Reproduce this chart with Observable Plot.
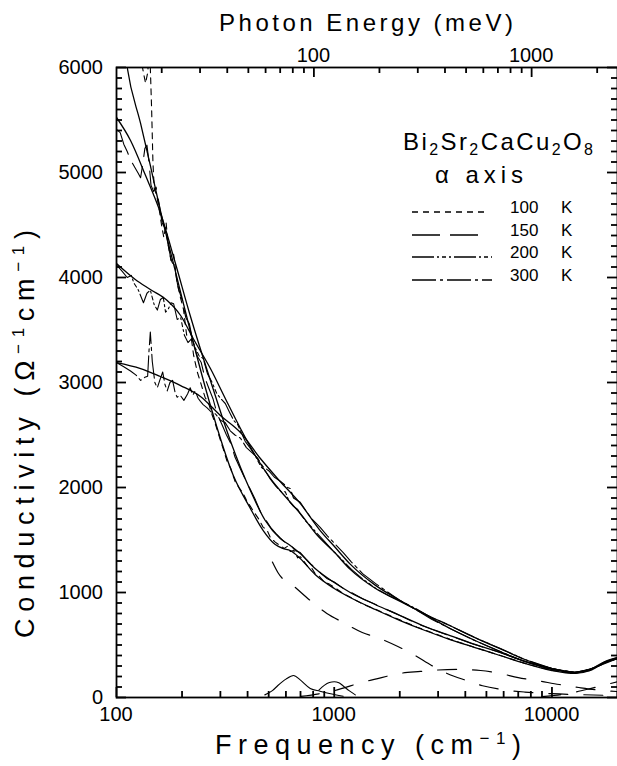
<!DOCTYPE html>
<html><head><meta charset="utf-8">
<script src="https://cdn.jsdelivr.net/npm/d3@7"></script>
<script src="https://cdn.jsdelivr.net/npm/@observablehq/plot@0.6"></script>
<style>body{margin:0;background:#fff} svg{display:block}</style>
</head><body><div id="chart"></div>
<script>
const FONT = '"Liberation Sans", Arial, Helvetica, sans-serif';

// ---------------- data (frequency in cm^-1, conductivity in Ω^-1 cm^-1) ----------------
const temps = ["100 K", "150 K", "200 K", "300 K"];

// Drude-Lorentz fits (solid)
const fit100f = [100,112,129,143,159,186,218,270,344,412,472,536,580,628,698,817,1000,1184,1542,2009,2614,3404,4432,5770,7516,10000,12760,15000,17500,20000];
const fit100s = [6900,6000,5467,5067,4638,4067,3495,2781,2114,1800,1590,1457,1420,1400,1324,1171,1038,952,838,733,638,552,476,400,324,257,229,257,333,375];
const fit150f = [100,116,136,159,186,218,270,333,412,482,565,628,698,817,1000,1184,1542,2009,2614,3404,4432,5770,7516,10000,12760,15000,17500,20000];
const fit150s = [5524,5305,4971,4619,4143,3638,3019,2448,1971,1686,1514,1448,1371,1229,1095,1000,886,781,676,590,505,429,343,276,238,267,343,381];
const fit200f = [100,122,143,171,197,225,270,316,371,434,509,596,698,836,1000,1184,1542,2009,2614,3404,4432,5770,7516,10000,12760,15000,17500,20000];
const fit200s = [4133,3981,3886,3781,3638,3419,3133,2848,2562,2305,2086,1914,1752,1545,1385,1220,1040,915,795,683,570,466,362,276,238,267,333,372];
const fit300f = [100,129,159,197,243,300,371,458,565,698,862,1000,1184,1542,2009,2614,3404,4432,5770,7516,10000,12760,16600,20000];
const fit300s = [3190,3133,3057,2971,2867,2686,2524,2276,2057,1848,1590,1440,1270,1070,924,790,657,543,438,343,267,238,305,372];

// measured spectra (broken line styles)
const d100f = [100,108,115,122,129,133,136,139,141,143,145,147,149,153,157,161,165,169,173,178,183,189,196,203,210,218,226,235,245,255,265,275,285,298,310,322,335,350,365,380,395,412,430,450,472,490,510,536,560,590,610,628,650,680,700,730,760,790,817,850,900,950,1000,1100,1200,1350,1550,1800,2000,2400,2800,3400,4400,5800,7500,10000,12700,15000,17500,20000];
const d100s = [6600,6450,6300,6180,6100,5950,5850,5950,6100,6000,5600,5100,4850,4780,4650,4500,4380,4520,4300,4160,4220,3980,3820,3700,3450,3500,3260,3100,2980,2860,2800,2690,2600,2470,2360,2250,2180,2060,2000,1950,1880,1820,1760,1700,1620,1600,1520,1480,1450,1420,1440,1390,1400,1330,1340,1290,1240,1230,1180,1160,1100,1080,1050,990,950,890,840,780,740,670,620,555,478,400,325,258,230,258,333,374];
const d150f = [100,104,108,112,116,122,126,129,132,135,138,141,144,148,152,157,162,167,172,178,185,192,200,208,216,225,235,245,255,265,278,290,305,320,335,350,370,390,412,435,460,482,510,540,565,600,628,660,698,740,780,817,870,930,1000,1100,1200,1350,1550,1800,2000,2400,2800,3400,4400,5800,7500,10000,12700,15000,17500,20000];
const d150s = [5410,5380,5270,5200,5120,5040,4990,4950,5080,5230,5260,5100,4880,4820,4860,4700,4520,4470,4330,4170,4090,3900,3790,3620,3560,3380,3250,3190,3040,2950,2840,2700,2600,2500,2420,2290,2180,2080,1980,1880,1760,1700,1620,1560,1520,1470,1460,1400,1380,1320,1270,1240,1180,1130,1100,1040,1000,940,885,825,782,705,650,588,505,428,343,275,238,267,340,381];
const d200f = [100,106,112,117,120,126,133,138,143,149,154,159,164,168,173,178,183,190,197,205,213,222,230,240,250,262,275,288,300,316,330,345,360,371,390,410,434,460,485,509,540,570,596,620,650,680,698,740,790,836,900,1000,1100,1200,1350,1550,1800,2000,2400,2800,3400,4400,5800,7500,10000,12700,15000,17500,20000];
const d200s = [4120,4060,4000,4020,3950,3880,3760,3850,3880,3740,3690,3790,3810,3670,3700,3760,3750,3600,3620,3450,3380,3420,3330,3250,3230,3080,3000,2900,2850,2800,2720,2640,2600,2540,2440,2380,2300,2200,2150,2080,2010,1960,1960,1870,1820,1790,1750,1680,1620,1560,1490,1385,1300,1220,1130,1040,965,925,840,760,685,572,466,362,276,238,266,332,370];
const d300f = [100,108,116,123,129,135,139,141,143,146,150,154,158,163,167,171,176,181,186,190,196,204,212,218,224,230,237,243,250,260,272,285,300,315,333,350,371,395,420,445,470,500,530,565,590,610,628,650,698,740,790,862,930,1000,1100,1200,1350,1550,1800,2000,2400,2800,3400,4400,5800,7500,10000,12700,15000,16600,18000,20000];
const d300s = [3190,3150,3110,3070,3020,3050,3060,3300,3480,3200,3000,2950,3020,3100,2980,2920,3000,3020,2900,2860,2880,2830,2890,2950,2880,2920,2850,2820,2790,2760,2720,2700,2640,2620,2540,2500,2470,2380,2330,2280,2200,2160,2100,2060,2030,2000,1990,1900,1860,1780,1700,1620,1540,1470,1380,1290,1180,1085,990,925,830,745,658,545,437,343,267,238,270,305,340,372];

// fit components (100 K)
const drudeF = [520,551,663,776,925,1100,1345,1620,1960,2350,2800,3300,4050,4800,5800,7500,10000,14000,20000];
const drudeS = [1290,1190,1048,924,800,714,619,562,486,400,305,229,162,112,78,52,36,26,18];
const mirF = [700,850,1000,1100,1340,1650,2000,2490,3000,3700,4700,5770,7000,8600,10800,13300,17000,20000];
const mirS = [10,35,65,90,143,190,229,248,262,267,257,229,190,160,124,95,67,57];
const interF = [9000,12000,15000,17500,20000];
const interS = [8,40,85,120,150];
const osc1F = [480,520,551,600,650,700,776,860,950,1100];
const osc1S = [25,65,114,175,210,165,86,60,38,12];
const osc2F = [850,900,950,1000,1050,1100,1170,1250];
const osc2S = [70,115,142,150,140,110,65,25];

// axes
const xMajor = [100, 1000, 10000];
const xMinor = [200,300,400,500,600,700,800,900,2000,3000,4000,5000,6000,7000,8000,9000,20000];
const meVMajor = [100, 1000];
const meVMinor = [20,30,40,50,60,70,80,90,200,300,400,500,600,700,800,900,2000];
const yMajor = [0,1000,2000,3000,4000,5000,6000];
const yMinor = d3.range(0, 6001, 100).filter(v => v % 1000 !== 0);
const CM_PER_MEV = 8.06554;
const X_DOMAIN = [100, 20000], Y_DOMAIN = [0, 6000];

// ---------------- layout & styles ----------------
const W = 617, H = 766, ML = 116, MR = 0, MT = 67, MB = 69;
const dash = {"100 K": "6,5", "150 K": "28,10", "200 K": "22,3,2,3,4,3,2,3", "300 K": "24,4,3,4"};
const compDash = "19,16";
const MAJOR_PX = 10, MINOR_PX = 6;
const yPerPx = (Y_DOMAIN[1] - Y_DOMAIN[0]) / (H - MT - MB);
const logXPerPx = Math.log10(X_DOMAIN[1] / X_DOMAIN[0]) / (W - ML - MR);
const yLen = px => px * yPerPx;
const xMul = px => Math.pow(10, px * logXPerPx);

const pts = (f, s) => f.map((x, i) => ({x, y: s[i]}));
const fits = [[fit100f, fit100s], [fit150f, fit150s], [fit200f, fit200s], [fit300f, fit300s]];
const meas = [[d100f, d100s], [d150f, d150s], [d200f, d200s], [d300f, d300s]];

const marks = [];
meas.forEach(([f, s], i) => marks.push(Plot.line(pts(f, s), {x: "x", y: "y", stroke: "black", strokeWidth: 1.1, strokeDasharray: dash[temps[i]], clip: true})));
fits.forEach(([f, s]) => marks.push(Plot.line(pts(f, s), {x: "x", y: "y", curve: "monotone-x", stroke: "black", strokeWidth: 1.3, clip: true})));
[[drudeF, drudeS], [mirF, mirS], [interF, interS]].forEach(([f, s]) =>
  marks.push(Plot.line(pts(f, s), {x: "x", y: "y", curve: "monotone-x", stroke: "black", strokeWidth: 1.2, strokeDasharray: compDash, clip: true})));
[[osc1F, osc1S], [osc2F, osc2S]].forEach(([f, s]) =>
  marks.push(Plot.line(pts(f, s), {x: "x", y: "y", curve: "monotone-x", stroke: "black", strokeWidth: 1.1, clip: true})));

// inward ticks as Plot rules
const tk = {stroke: "black", strokeWidth: 1.8};
const meVMaj = meVMajor.map(e => e * CM_PER_MEV), meVMin = meVMinor.map(e => e * CM_PER_MEV);
marks.push(
  Plot.ruleX(xMajor, {x: d => d, y1: Y_DOMAIN[0], y2: yLen(MAJOR_PX), ...tk}),
  Plot.ruleX(xMinor, {x: d => d, y1: Y_DOMAIN[0], y2: yLen(MINOR_PX), ...tk}),
  Plot.ruleX(meVMaj, {x: d => d, y1: Y_DOMAIN[1] - yLen(MAJOR_PX), y2: Y_DOMAIN[1], ...tk}),
  Plot.ruleX(meVMin, {x: d => d, y1: Y_DOMAIN[1] - yLen(MINOR_PX), y2: Y_DOMAIN[1], ...tk}),
  Plot.ruleY(yMajor, {y: d => d, x1: X_DOMAIN[0], x2: X_DOMAIN[0] * xMul(MAJOR_PX), ...tk}),
  Plot.ruleY(yMinor, {y: d => d, x1: X_DOMAIN[0], x2: X_DOMAIN[0] * xMul(MINOR_PX), ...tk}),
  Plot.ruleY(yMajor, {y: d => d, x1: X_DOMAIN[1] / xMul(MAJOR_PX), x2: X_DOMAIN[1], ...tk}),
  Plot.ruleY(yMinor, {y: d => d, x1: X_DOMAIN[1] / xMul(MINOR_PX), x2: X_DOMAIN[1], ...tk}),
  Plot.frame({stroke: "black", strokeWidth: 1.8})
);

const svg = Plot.plot({
  width: W, height: H,
  marginLeft: ML, marginRight: MR, marginTop: MT, marginBottom: MB,
  style: {fontFamily: FONT, fontSize: "20px", color: "black", background: "white"},
  x: {type: "log", domain: X_DOMAIN, axis: null},
  y: {domain: Y_DOMAIN, axis: null},
  marks
});

// ---------------- tick labels from Plot's own scales ----------------
const s = d3.select(svg);
const xs = svg.scale("x"), ys = svg.scale("y");
const X = v => xs.apply(v), Y = v => ys.apply(v);
const yTop = Y(Y_DOMAIN[1]), yBot = Y(Y_DOMAIN[0]), xL = X(X_DOMAIN[0]);

const T = (x, y, size, anchor = "start") => s.append("text").attr("x", x).attr("y", y).attr("font-size", size)
  .attr("font-family", FONT).attr("fill", "black").attr("text-anchor", anchor);

xMajor.forEach(v => T(X(v), yBot + 24, 20, "middle").text(String(v)));
meVMajor.forEach(e => T(X(e * CM_PER_MEV), yTop - 5, 20, "middle").text(String(e)));
yMajor.forEach(v => T(xL - 13, Y(v) + 7, 20, "end").text(String(v)));

// ---------------- titles & legend ----------------
T(366, 31, 24, "middle").attr("textLength", 294).attr("lengthAdjust", "spacing").text("Photon Energy (meV)");

const fx = T(368, 754, 27, "middle").attr("textLength", 306).attr("lengthAdjust", "spacing");
fx.append("tspan").text("Frequency (cm");
fx.append("tspan").attr("dy", -10).attr("font-size", 17).text("−1");
fx.append("tspan").attr("dy", 10).text(")");

const fy = s.append("text").attr("transform", "translate(34,434) rotate(-90)").attr("font-size", 27)
  .attr("font-family", FONT).attr("fill", "black").attr("text-anchor", "middle").attr("textLength", 408).attr("lengthAdjust", "spacing");
fy.append("tspan").text("Conductivity (Ω");
fy.append("tspan").attr("dy", -10).attr("font-size", 17).text("−1");
fy.append("tspan").attr("dy", 10).text("cm");
fy.append("tspan").attr("dy", -10).attr("font-size", 17).text("−1");
fy.append("tspan").attr("dy", 10).text(")");

const chem = T(403, 150, 24).attr("textLength", 190).attr("lengthAdjust", "spacing");
[["Bi", 0], ["2", 1], ["Sr", 0], ["2", 1], ["CaCu", 0], ["2", 1], ["O", 0], ["8", 1]].forEach(([t, sub], i, arr) => {
  const prevSub = i > 0 && arr[i - 1][1];
  chem.append("tspan").attr("dy", sub ? 5 : (prevSub ? -5 : 0)).attr("font-size", sub ? 16 : 24).text(t);
});
T(435, 183, 24).attr("textLength", 88).attr("lengthAdjust", "spacing").text("α axis");

const legY = [212, 235, 257, 280];
const legEnd = [487, 483, 492, 492];
temps.forEach((t, i) => {
  s.append("path").attr("d", `M412,${legY[i]}H${legEnd[i]}`)
    .attr("fill", "none").attr("stroke", "black").attr("stroke-width", 1.3).attr("stroke-dasharray", dash[t]);
  const [num, unit] = t.split(" ");
  const tx = T(510, legY[i] + 1, 17);
  tx.append("tspan").text(num);
  tx.append("tspan").attr("x", 561).text(unit);
});

document.getElementById("chart").appendChild(svg);
</script>
</body></html>
